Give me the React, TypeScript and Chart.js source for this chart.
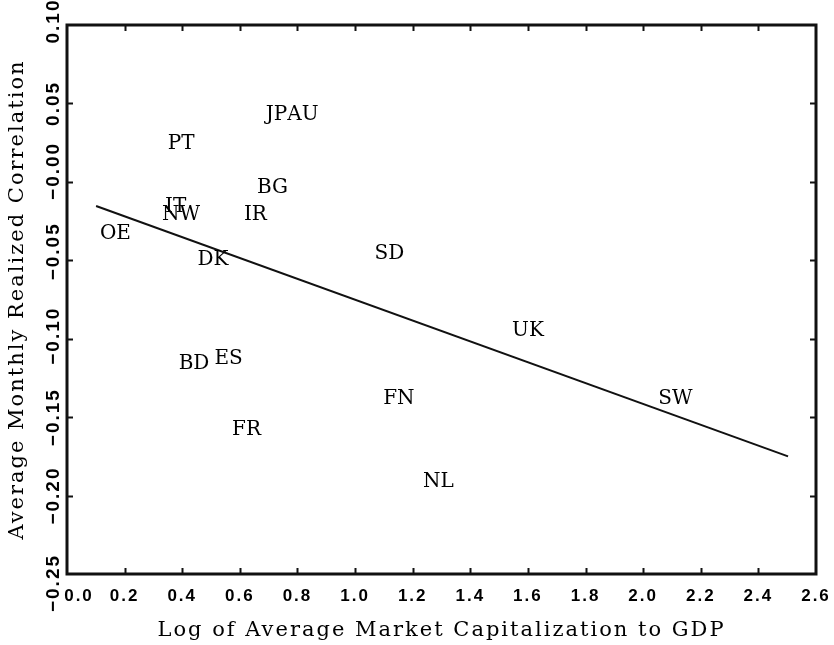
import React, { useEffect, useRef } from 'react';
import { Chart, registerables } from 'chart.js';

Chart.register(...registerables);

// Country labels and their positions
const countries = ['JP', 'AU', 'PT', 'BG', 'IT', 'NW', 'IR', 'OE', 'DK', 'SD', 'UK', 'SW', 'FN', 'BD', 'ES', 'FR', 'NL'];
const capToGdp = [0.727, 0.819, 0.396, 0.713, 0.377, 0.396, 0.654, 0.168, 0.507, 1.119, 1.600, 2.112, 1.152, 0.441, 0.561, 0.623, 1.289];
const avgCorrelation = [0.043, 0.043, 0.024, -0.004, -0.016, -0.021, -0.021, -0.033, -0.050, -0.046, -0.095, -0.138, -0.138, -0.116, -0.113, -0.158, -0.191];

// Fitted regression line end points
const fitX = [0.101, 2.503];
const fitY = [-0.0154, -0.175];

// Tick labels
const xTickLabels = ['0.0', '0.2', '0.4', '0.6', '0.8', '1.0', '1.2', '1.4', '1.6', '1.8', '2.0', '2.2', '2.4', '2.6'];
const yTickLabels = ['\u22120.25', '\u22120.20', '\u22120.15', '\u22120.10', '\u22120.05', '\u22120.00', '0.05', '0.10'];

const xTitle = 'Log of Average Market Capitalization to GDP';
const yTitle = 'Average Monthly Realized Correlation';

// small label nudges (pixels) as seen in the original figure
const xLabelNudge: Record<number, number> = { 0: 12 };
const yLabelNudge: Record<number, number> = { 0: 9, 3: -3, 4: -9, 5: -11, 7: -4 };

const framePlugin = {
  id: 'frameAndLabels',
  beforeDraw(chart: any) {
    const xs = chart.scales.x;
    const ys = chart.scales.y;
    xs.getLabelItems(chart.chartArea).forEach((it: any, i: number) => {
      if (it._nudged) return;
      it._nudged = true;
      if (xLabelNudge[i]) it.options.translation[0] += xLabelNudge[i];
    });
    ys.getLabelItems(chart.chartArea).forEach((it: any, i: number) => {
      if (it._nudged) return;
      it._nudged = true;
      if (yLabelNudge[i]) it.options.translation[1] += yLabelNudge[i];
    });
    chart.ctx.letterSpacing = '2px';
  },
  beforeDatasetsDraw(chart: any) {
    chart.ctx.letterSpacing = '0px';
  },
  afterDatasetsDraw(chart: any) {
    const ctx = chart.ctx;
    const meta = chart.getDatasetMeta(0);
    ctx.save();
    ctx.letterSpacing = '0px';
    ctx.font = '20px "DejaVu Serif"';
    ctx.fillStyle = '#000';
    ctx.textAlign = 'center';
    ctx.textBaseline = 'middle';
    meta.data.forEach((pt: any, i: number) => {
      ctx.fillText(countries[i], pt.x, pt.y);
    });
    ctx.restore();
  },
  afterDraw(chart: any) {
    const ctx = chart.ctx;
    const { left, right, top, bottom } = chart.chartArea;
    const xs = chart.scales.x;
    const ys = chart.scales.y;
    ctx.save();
    ctx.letterSpacing = '0px';
    ctx.strokeStyle = '#111';
    ctx.lineWidth = 2;
    const tl = 6;
    ctx.beginPath();
    xs.ticks.forEach((t: any, i: number) => {
      if (i === 0 || i === xs.ticks.length - 1) return;
      const px = Math.round(xs.getPixelForValue(t.value)) + 0.5;
      ctx.moveTo(px, bottom);
      ctx.lineTo(px, bottom - tl);
      ctx.moveTo(px, top);
      ctx.lineTo(px, top + tl);
    });
    ys.ticks.forEach((t: any, i: number) => {
      if (i === 0 || i === ys.ticks.length - 1) return;
      const py = Math.round(ys.getPixelForValue(t.value)) + 0.5;
      ctx.moveTo(left, py);
      ctx.lineTo(left + tl, py);
      ctx.moveTo(right, py);
      ctx.lineTo(right - tl, py);
    });
    ctx.stroke();
    ctx.lineWidth = 3;
    ctx.strokeRect(left, top, right - left, bottom - top);
    ctx.restore();
    chart.ctx.letterSpacing = '0px';
  },
};

export default function App() {
  const ref = useRef<HTMLCanvasElement>(null);

  useEffect(() => {
    if (!ref.current) return;
    const chart = new Chart(ref.current, {
      type: 'scatter',
      data: {
        datasets: [
          {
            label: 'Countries',
            data: countries.map((_, i) => ({ x: capToGdp[i], y: avgCorrelation[i] })),
            pointRadius: 0,
            pointHoverRadius: 0,
            borderColor: 'transparent',
            backgroundColor: 'transparent',
          },
          {
            label: 'Fit',
            data: fitX.map((x, i) => ({ x, y: fitY[i] })),
            showLine: true,
            borderColor: '#111',
            borderWidth: 2,
            pointRadius: 0,
            fill: false,
          },
        ],
      },
      options: {
        responsive: false,
        animation: false,
        devicePixelRatio: 1,
        layout: { padding: { top: 25, right: 18, left: 0, bottom: 0 } },
        plugins: {
          legend: { display: false },
          tooltip: { enabled: false },
          title: { display: false },
        },
        scales: {
          x: {
            type: 'linear',
            min: 0,
            max: 2.6,
            grid: { display: false, drawTicks: false },
            border: { display: false },
            ticks: {
              stepSize: 0.2,
              autoSkip: false,
              maxRotation: 0,
              minRotation: 0,
              padding: 12,
              color: '#000',
              font: { family: 'Liberation Sans', size: 17, weight: 'bold' },
              callback: (v: any, i: number) => xTickLabels[i] ?? String(v),
            },
            title: {
              display: true,
              text: xTitle,
              color: '#000',
              font: { family: 'DejaVu Serif', size: 21 },
              padding: { top: 0, bottom: 2 },
            },
            afterFit: (s: any) => {
              s.height = 71;
              s.paddingLeft = 0;
              s.paddingRight = 0;
            },
          },
          y: {
            type: 'linear',
            min: -0.25,
            max: 0.1,
            grid: { display: false, drawTicks: false },
            border: { display: false },
            ticks: {
              stepSize: 0.05,
              autoSkip: false,
              minRotation: 90,
              maxRotation: 90,
              crossAlign: 'center',
              padding: -11,
              color: '#000',
              font: { family: 'Liberation Sans', size: 19, weight: 'bold' },
              callback: (v: any, i: number) => yTickLabels[i] ?? String(v),
            },
            title: {
              display: true,
              text: yTitle,
              color: '#000',
              font: { family: 'DejaVu Serif', size: 21 },
              padding: { top: 5, bottom: 0 },
            },
            afterFit: (s: any) => {
              s.width = 67;
              s.paddingTop = 0;
              s.paddingBottom = 0;
            },
          },
        },
      } as any,
      plugins: [framePlugin],
    });
    return () => chart.destroy();
  }, []);

  return (
    <div style={{ position: 'absolute', left: 0, top: 0, width: 834, height: 645, background: '#fff' }}>
      <canvas ref={ref} width={834} height={645} style={{ display: 'block', width: 834, height: 645 }} />
    </div>
  );
}
